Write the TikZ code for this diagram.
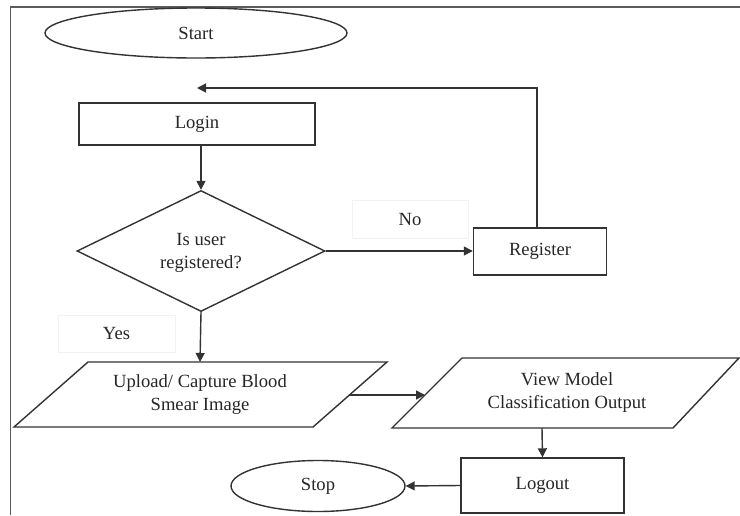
\documentclass[tikz,border=0pt]{standalone}
\usepackage{fontspec}
\setmainfont{Liberation Serif}
\usetikzlibrary{arrows.meta,shapes.geometric}
\definecolor{ln}{gray}{0.2}
\definecolor{faint}{gray}{0.95}
\tikzset{
  every node/.style={font=\fontsize{18.6}{23}\selectfont, text=black!85},
  shp/.style={draw=ln, line width=1.4pt},
  boxnode/.style={shp, rectangle, inner sep=0pt},
  ovalnode/.style={shp, ellipse, inner sep=0pt},
  txt/.style={align=center, inner sep=0pt},
  lbl/.style={draw=faint, line width=0.6pt, inner sep=0pt},
  arr/.style={draw=ln, line width=1.4pt, -{Triangle[length=9pt,width=9pt]}},
  plain/.style={draw=ln, line width=1.4pt}
}
\begin{document}
\begin{tikzpicture}[x=1pt,y=-1pt]
\useasboundingbox (0,0) rectangle (740,515);
% frame
\draw[draw=ln!80, line width=1.6pt] (10.5,515) -- (10.5,7) -- (740,7);

% nodes
\node[ovalnode, minimum width=302pt, minimum height=50pt] (start) at (196,33) {Start};
\node[boxnode, minimum width=236pt, minimum height=42pt] (login) at (197,124) {Login};
\node[shp, diamond, aspect=2.05, minimum width=248pt, minimum height=121pt, inner sep=0pt, align=center] (dec) at (201,251) {};
\node[txt] (dectxt) at (201,253) {Is user\\registered?};
\node[boxnode, minimum width=133pt, minimum height=47pt] (reg) at (540,251.5) {Register};
\node[lbl, minimum width=116pt, minimum height=38pt] (no) at (410,219) {No};
\node[lbl, minimum width=117pt, minimum height=37pt] (yes) at (116.5,333.5) {Yes};

% parallelograms
\draw[plain] (88,362) -- (387,362) -- (313,427) -- (14,427) -- cycle;
\node[txt] (upload) at (200,395) {Upload/ Capture Blood\\Smear Image};
\coordinate (upR) at (349,395);
\coordinate (upT) at (200,362);

\draw[plain] (462,358) -- (739,358) -- (673,428) -- (392,428) -- cycle;
\node[txt] (view) at (567,393) {View Model\\Classification Output};
\coordinate (viewL) at (425,395);
\coordinate (viewB) at (542,428);

\node[boxnode, minimum width=163pt, minimum height=55pt] (logout) at (542.5,485.5) {Logout};
\node[ovalnode, minimum width=174pt, minimum height=51pt] (stop) at (318,486) {Stop};

% connectors
\coordinate (retEnd) at (197,88);
\coordinate (retCorner) at (537,88);
\draw[arr] (reg.north -| retCorner) -- (retCorner) -- (retEnd);
\draw[arr] (login.south -| dec.north) -- (dec.north);
\draw[arr] (dec.east) -- (reg.west |- dec.east);
\draw[arr] (dec.south) -- (upT);
\draw[arr] (upR) -- (viewL);
\draw[arr] (viewB) -- (logout.north);
\draw[arr] (logout.west) -- (stop.east);
\end{tikzpicture}
\end{document}
